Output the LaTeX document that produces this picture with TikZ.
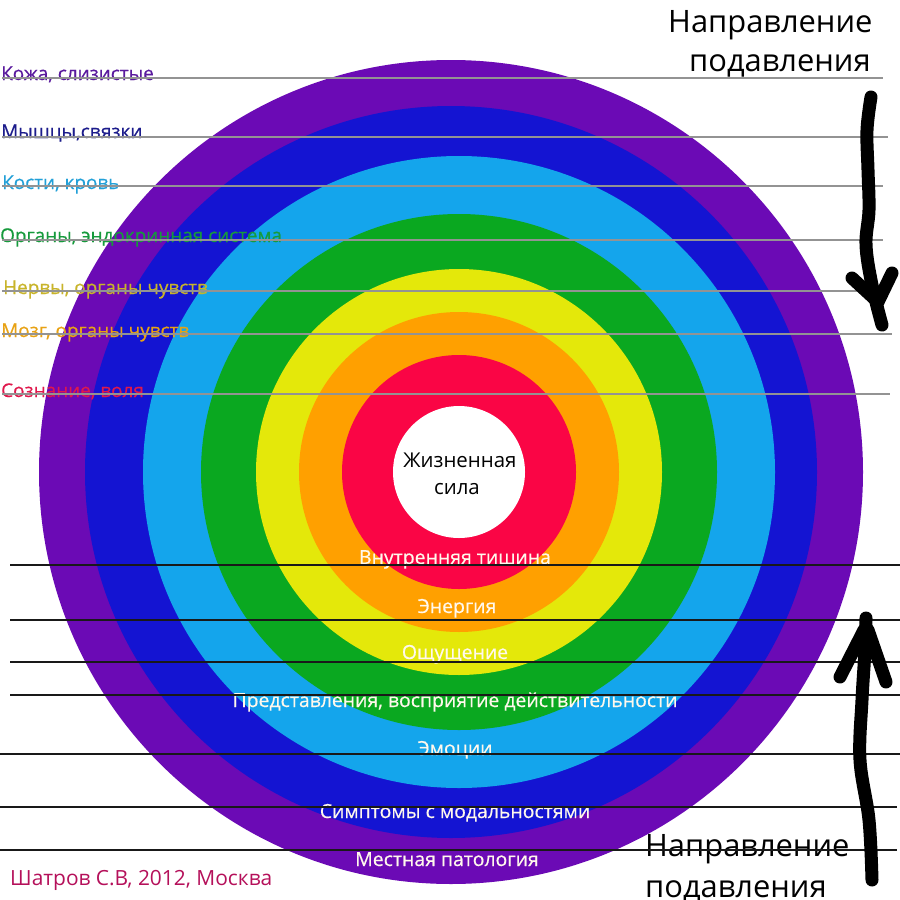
\documentclass[tikz,border=0pt]{standalone}
\usepackage{fontspec}
\setmainfont{Open Sans}
\newfontfamily\medfont[FakeBold=0.5]{Open Sans}
\definecolor{cPurple}{HTML}{6B0AB5}
\definecolor{cBlue}{HTML}{1414D2}
\definecolor{cLBlue}{HTML}{14A5EC}
\definecolor{cGreen}{HTML}{0AA820}
\definecolor{cYellow}{HTML}{E4E80A}
\definecolor{cOrange}{HTML}{FFA000}
\definecolor{cRed}{HTML}{FA0545}
\definecolor{tPurple}{HTML}{5A1A9E}
\definecolor{tNavy}{HTML}{1C1C8C}
\definecolor{tCyan}{HTML}{22A0D8}
\definecolor{tGreen}{HTML}{169A3C}
\definecolor{tOlive}{HTML}{C8B42A}
\definecolor{tOrange}{HTML}{E8A214}
\definecolor{tRed}{HTML}{E0184C}
\definecolor{tCredit}{HTML}{B5105A}
\definecolor{tWhite}{HTML}{FFF8EC}
\tikzset{
  leftlabel/.style={anchor=base west, inner sep=0pt, font=\medfont\fontsize{19}{22}\selectfont},
  ringlabel/.style={anchor=base, inner sep=0pt, text=tWhite, font=\medfont\fontsize{19.5}{22}\selectfont},
  bigtext/.style={anchor=base west, inner sep=0pt, font=\fontsize{31}{36}\selectfont},
  grayline/.style={draw=gray!85, line width=1.1bp},
  blackline/.style={draw=black!90, line width=1.5bp},
  handstroke/.style={draw=black, line width=13bp, line cap=round, line join=round},
}
\begin{document}
\begin{tikzpicture}[x=1bp, y=-1bp]
\useasboundingbox (0,0) rectangle (900,900);
\fill[white] (0,0) rectangle (900,900);
% rings
\fill[cPurple] (451,472) circle[radius=412];
\fill[cBlue]   (451,472) circle[radius=366];
\fill[cLBlue]  (459,472) circle[radius=316];
\fill[cGreen]  (459,472) circle[radius=258];
\fill[cYellow] (459,472) circle[radius=203];
\fill[cOrange] (459,472) circle[radius=160];
\fill[cRed]    (459,472) circle[radius=117];
\fill[white]   (459,472) circle[radius=66];
% center
\node[anchor=base, inner sep=0pt, font=\fontsize{20.5}{24}\selectfont] (core1) at (460,467) {Жизненная};
\node[anchor=base, inner sep=0pt, font=\fontsize{20.5}{24}\selectfont] (core2) at (457,494) {сила};
% left labels
\node[leftlabel, text=tPurple] (l1) at (1,80)  {Кожа, слизистые};
\node[leftlabel, text=tNavy]   (l2) at (1,138) {Мышцы,связки};
\node[leftlabel, text=tCyan]   (l3) at (2,189) {Кости, кровь};
\node[leftlabel, text=tGreen]  (l4) at (0,242) {Органы, эндокринная система};
\node[leftlabel, text=tOlive]  (l5) at (3,294) {Нервы, органы чувств};
\node[leftlabel, text=tOrange] (l6) at (1,337) {Мозг, органы чувств};
\node[leftlabel, text=tRed]    (l7) at (1,397) {Сознание, воля};
% ring labels
\node[ringlabel] (r1) at (455,564) {Внутренняя тишина};
\node[ringlabel] (r2) at (457,613) {Энергия};
\node[ringlabel] (r3) at (455,659) {Ощущение};
\node[ringlabel] (r4) at (455,707) {Представления, восприятие действительности};
\node[ringlabel] (r5) at (455,755) {Эмоции};
\node[ringlabel] (r6) at (455,818) {Симптомы с модальностями};
\node[ringlabel] (r7) at (447,866) {Местная патология};
% credit
\node[anchor=base west, inner sep=0pt, text=tCredit, font=\fontsize{21}{26}\selectfont] (credit) at (10,885) {Шатров С.В, 2012, Москва};
% direction texts
\node[bigtext] (t1) at (668,32) {Направление};
\node[bigtext] (t2) at (689,71) {подавления};
\node[bigtext] (b1) at (645,856) {Направление};
\node[bigtext] (b2) at (645,897) {подавления};
% gray rule lines (top)
\coordinate (g1a) at (2,78);   \coordinate (g1b) at (883,78);
\coordinate (g2a) at (2,137);  \coordinate (g2b) at (888,137);
\coordinate (g3a) at (2,186);  \coordinate (g3b) at (883,186);
\coordinate (g4a) at (2,240);  \coordinate (g4b) at (883,240);
\coordinate (g5a) at (2,291);  \coordinate (g5b) at (890,291);
\coordinate (g6a) at (2,334);  \coordinate (g6b) at (892,334);
\coordinate (g7a) at (2,394);  \coordinate (g7b) at (890,394);
\foreach \i in {1,...,7} {\draw[grayline] (g\i a) -- (g\i b);}
% black rule lines (bottom)
\coordinate (k1a) at (10,565); \coordinate (k1b) at (900,565);
\coordinate (k2a) at (10,620); \coordinate (k2b) at (900,620);
\coordinate (k3a) at (10,662); \coordinate (k3b) at (900,662);
\coordinate (k4a) at (10,695); \coordinate (k4b) at (900,695);
\coordinate (k5a) at (0,754);  \coordinate (k5b) at (900,754);
\coordinate (k6a) at (0,807);  \coordinate (k6b) at (897,807);
\coordinate (k7a) at (0,850);  \coordinate (k7b) at (897,850);
\foreach \i in {1,...,7} {\draw[blackline] (k\i a) -- (k\i b);}
% hand-drawn arrow down (top right)
\coordinate (dA) at (871,97);
\coordinate (dTip) at (882,325);
\coordinate (dL) at (852,278);
\coordinate (dR) at (892,273);
\coordinate (dM) at (878,302);
\draw[handstroke] plot[smooth, tension=0.6] coordinates {(dA) (867,130) (868,170) (869,210) (866,245) (872,285) (dTip)};
\draw[handstroke] (dL) -- (dM) -- (dR);
% hand-drawn arrow up (bottom right)
\coordinate (uA) at (872,880);
\coordinate (uTip) at (866,618);
\coordinate (uL) at (840,677);
\coordinate (uR) at (886,682);
\draw[handstroke] plot[smooth, tension=0.6] coordinates {(uA) (869,820) (860,760) (862,700) (865,650) (uTip)};
\draw[handstroke] (uL) -- (864,630) (868,630) -- (uR);
\end{tikzpicture}
\end{document}
